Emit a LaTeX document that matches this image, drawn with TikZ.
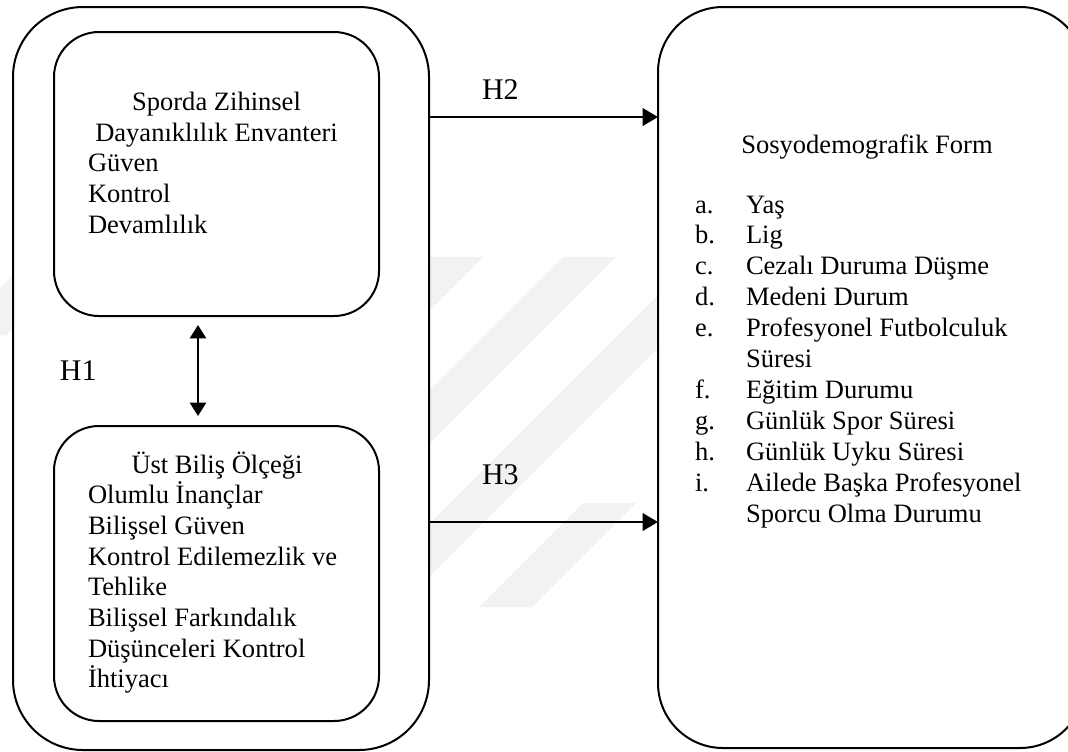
\documentclass[tikz,border=0pt]{standalone}
\usepackage{fontspec}
\setmainfont{Liberation Serif}
\usetikzlibrary{arrows.meta}

\begin{document}
\begin{tikzpicture}[x=0.75pt,y=-0.75pt,
  box/.style={draw=black, fill=white, line width=1.5pt, inner sep=0pt, outer sep=0pt},
  txt/.style={inner sep=0pt, outer sep=0pt, font=\fontsize{19.9}{23}\selectfont},
  hlabel/.style={inner sep=0pt, outer sep=0pt, anchor=base west, font=\fontsize{22.5}{26}\selectfont},
  link/.style={line width=2pt, -{Triangle[length=11.5pt,width=13pt]}},
  both/.style={line width=1.8pt, {Triangle[length=10pt,width=12pt]}-{Triangle[length=10pt,width=12pt]}},
  band/.style={fill=black!5, draw=none}]
\useasboundingbox (0,0) rectangle (1068,751);
\clip (0,0) rectangle (1068,751);

% faint diagonal stripes in the background
\begin{scope}
  \clip (0,257) -- (700,257) -- (700,607) -- (13,607) -- (13,335) -- (0,335) -- cycle;
  \foreach \a in {31,164,297,430,563,696}
    \fill[band] (\a,257) -- (\a+53,257) -- (\a-297,607) -- (\a-350,607) -- cycle;
\end{scope}
\fill[band] (583,503) -- (636,503) -- (532,607) -- (479,607) -- cycle;

% boxes
\node[box, rounded corners=52.5pt, minimum width=312pt, minimum height=557.25pt] (outer) at (221,378.5) {};
\node[box, rounded corners=33.75pt, minimum width=243.75pt, minimum height=213pt] (sz) at (216.5,174) {};
\node[box, rounded corners=33.75pt, minimum width=243.75pt, minimum height=221.25pt] (ub) at (216.5,573.5) {};
\node[box, rounded corners=48.75pt, minimum width=320.25pt, minimum height=555.75pt] (form) at (871.5,377.5) {};

% upper inner box text
\node[txt, anchor=base] (sz1) at (216.5,110) {Sporda Zihinsel};
\node[txt, anchor=base] (sz2) at (216.5,141) {Dayanıklılık Envanteri};
\foreach \t [count=\i] in {Güven,Kontrol,Devamlılık}
  \node[txt, anchor=base west] (szi\i) at (88,{141+30.75*\i}) {\t};

% lower inner box text
\node[txt, anchor=base] (ub1) at (217,473) {Üst Biliş Ölçeği};
\foreach \t [count=\i] in {Olumlu İnançlar,Bilişsel Güven,Kontrol Edilemezlik ve,Tehlike,Bilişsel Farkındalık,Düşünceleri Kontrol,İhtiyacı}
  \node[txt, anchor=base west] (ubi\i) at (88,{473+30.7*\i}) {\t};

% form text
\node[txt, anchor=base] (ft) at (867,153) {Sosyodemografik Form};
\foreach \l/\t/\k in {a./Yaş/0, b./Lig/1, c./Cezalı Duruma Düşme/2, d./Medeni Durum/3,
    e./Profesyonel Futbolculuk/4, f./Eğitim Durumu/6, g./Günlük Spor Süresi/7,
    h./Günlük Uyku Süresi/8, i./Ailede Başka Profesyonel/9}
{
  \node[txt, anchor=base west] (fl\k) at (695,{213+30.9*\k}) {\l};
  \node[txt, anchor=base west] (fi\k) at (746,{213+30.9*\k}) {\t};
}
\node[txt, anchor=base west] (fi5) at (746,{213+30.9*5}) {Süresi};
\node[txt, anchor=base west] (fi10) at (746,{213+30.9*10}) {Sporcu Olma Durumu};

% hypothesis labels
\node[hlabel] (h1) at (60,380) {H1};
\node[hlabel] (h2) at (482,99) {H2};
\node[hlabel] (h3) at (482,484) {H3};

% connectors
\coordinate (h1x) at (198,0);
\coordinate (h2y) at (0,117);
\coordinate (h3y) at (0,522);
\draw[both, shorten <=6.75pt, shorten >=7.5pt] (sz.south -| h1x) -- (ub.north -| h1x);
\draw[link] (outer.east |- h2y) -- (form.west |- h2y);
\draw[link] (outer.east |- h3y) -- (form.west |- h3y);
\end{tikzpicture}
\end{document}
